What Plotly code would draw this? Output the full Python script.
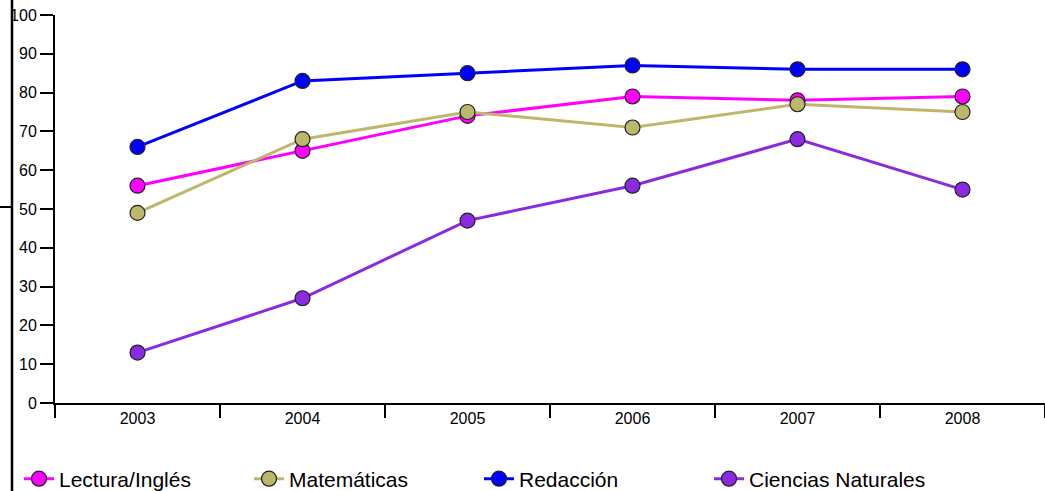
import plotly.graph_objects as go

years = ["2003", "2004", "2005", "2006", "2007", "2008"]
lectura = [56, 65, 74, 79, 78, 79]
matematicas = [49, 68, 75, 71, 77, 75]
redaccion = [66, 83, 85, 87, 86, 86]
ciencias = [13, 27, 47, 56, 68, 55]
y_ticks = [0, 10, 20, 30, 40, 50, 60, 70, 80, 90, 100]

series = [
    ("Lectura/Inglés", lectura, "#FF00FF"),
    ("Matemáticas", matematicas, "#BDB76B"),
    ("Redacción", redaccion, "#0000FF"),
    ("Ciencias Naturales", ciencias, "#8A2BE2"),
]

fig = go.Figure()
for name, vals, color in series:
    fig.add_trace(go.Scatter(
        x=years, y=vals, name=name, mode="lines+markers",
        line=dict(color=color, width=3),
        marker=dict(size=15, color=color, line=dict(color="#222222", width=1.2)),
    ))

W, H = 1045, 491
ml, mr, mt, mb = 55, 0, 15, 88
pw, ph = W - ml - mr, H - mt - mb

def px_x(x):
    return (x - ml) / pw

def px_y(y):
    return (H - mb - y) / ph

fig.update_layout(
    width=W, height=H,
    margin=dict(l=ml, r=mr, t=mt, b=mb, autoexpand=False),
    paper_bgcolor="white", plot_bgcolor="white",
    font=dict(family="Arial, Liberation Sans, sans-serif", color="black", size=16),
    xaxis=dict(
        type="category", range=[-0.5, 5.5], tickson="boundaries",
        showline=True, linecolor="black", linewidth=2,
        ticks="outside", ticklen=13, tickwidth=2, tickcolor="black",
        showgrid=False, zeroline=False, tickfont=dict(size=16),
    ),
    yaxis=dict(
        range=[0, 100], tickvals=y_ticks,
        showline=True, linecolor="black", linewidth=2,
        ticks="outside", ticklen=13, tickwidth=2, tickcolor="black",
        showgrid=False, zeroline=False, tickfont=dict(size=16),
    ),
    legend=dict(
        orientation="h", x=px_x(19), xanchor="left", y=px_y(479), yanchor="middle",
        font=dict(size=21), entrywidth=185, entrywidthmode="pixels",
        bgcolor="rgba(0,0,0,0)",
    ),
    showlegend=True,
)

fig.add_shape(type="line", xref="paper", yref="paper",
              x0=px_x(12), x1=px_x(12), y0=px_y(0), y1=px_y(H),
              line=dict(color="black", width=2.5))
fig.add_shape(type="line", xref="paper", yref="paper",
              x0=px_x(0), x1=px_x(12), y0=px_y(207), y1=px_y(207),
              line=dict(color="black", width=2))

fig.write_html(
    "out.html",
    config={"displayModeBar": False},
    post_script=(
        "document.documentElement.style.margin='0';"
        "document.body.style.margin='0';"
    ),
)
